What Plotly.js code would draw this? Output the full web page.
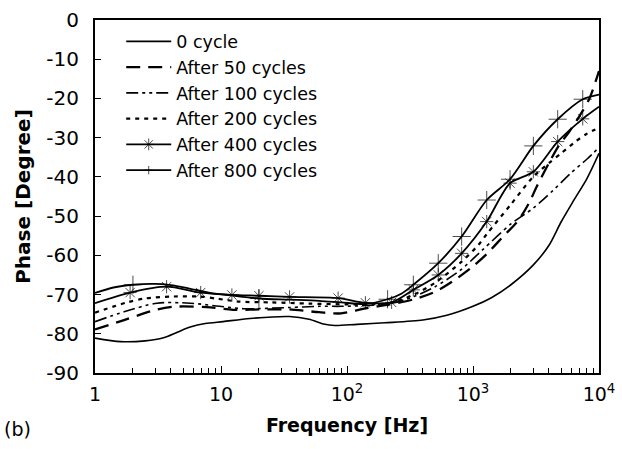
<!DOCTYPE html>
<html>
<head>
<meta charset="utf-8">
<script src="https://cdn.plot.ly/plotly-3.0.1.min.js"></script>
<style>
html,body{margin:0;padding:0;background:#fff;}
#chart{width:622px;height:449px;}
</style>
</head>
<body>
<div id="chart"></div>
<script>
// ---- data ----
const seriesNames = ["0 cycle", "After 50 cycles", "After 100 cycles", "After 200 cycles", "After 400 cycles", "After 800 cycles"];

const freq0 = [1, 1.6, 2.5, 3.5, 4.5, 5.7, 7.5, 10.4, 17, 35, 50, 65, 80, 120, 200, 400, 620, 1000, 1400, 2000, 3000, 4000, 5000, 6300, 8000, 10000];
const phase0 = [-81.1, -82.0, -81.8, -81.0, -79.6, -78.3, -77.4, -76.9, -76.1, -75.6, -76.3, -77.5, -77.9, -77.6, -77.2, -76.5, -75.3, -73.0, -70.8, -67.5, -62.5, -57.5, -51.5, -46.0, -40.5, -34.0];

const freq50 = [1, 1.7, 3.1, 4.2, 7.7, 12.5, 20, 35, 60, 90, 140, 220, 340, 500, 700, 1000, 1300, 1700, 2300, 2800, 3200, 4000, 4800, 5800, 7000, 8400, 10000];
const phase50 = [-78.9, -76.5, -73.8, -73.1, -73.2, -73.9, -73.8, -73.8, -74.5, -74.8, -73.5, -72.5, -71.2, -69.3, -66.5, -62.8, -59.5, -55.5, -51.0, -46.5, -42.5, -36.5, -32.0, -28.5, -24.5, -20.0, -13.0];

const freq100 = [1, 1.7, 3.1, 5.7, 9.2, 15, 35, 60, 90, 140, 220, 340, 500, 800, 1200, 2000, 3000, 4300, 6000, 8000, 10000];
const phase100 = [-76.9, -74.4, -72.2, -72.2, -72.9, -73.6, -73.3, -73.0, -73.0, -72.8, -72.3, -70.5, -68.0, -63.7, -58.5, -52.0, -48.0, -43.5, -39.0, -35.5, -32.5];

const freq200 = [1, 1.8, 2.5, 4.2, 6.8, 9.5, 14, 25, 50, 100, 160, 230, 340, 500, 800, 1100, 1300, 2000, 3000, 4000, 5000, 6500, 8000, 10000];
const phase200 = [-74.6, -72.0, -71.0, -70.5, -70.5, -71.1, -71.8, -72.0, -72.3, -72.5, -72.5, -72.0, -70.0, -67.0, -61.8, -57.4, -54.4, -47.0, -40.0, -36.5, -34.0, -31.0, -29.0, -27.5];

const freq400 = [1, 1.9, 3.7, 6.9, 12.2, 20, 35, 85, 140, 226, 336, 530, 813, 1285, 1968, 3013, 4700, 7430, 10000];
const phase400 = [-72.2, -69.5, -68.0, -69.5, -70.1, -70.3, -70.6, -70.9, -72.1, -72.0, -68.8, -65.0, -59.5, -51.4, -41.6, -38.7, -31.0, -25.2, -22.1];

const freq800 = [1, 1.4, 2, 3, 4, 5.5, 8, 12, 20, 35, 60, 90, 140, 210, 270, 336, 530, 813, 1285, 1968, 3013, 4700, 7430, 10000];
const phase800 = [-69.6, -68.2, -67.5, -67.3, -67.6, -68.4, -69.5, -70.2, -71.0, -71.3, -71.6, -72.0, -72.4, -71.2, -69.8, -67.5, -62.0, -55.2, -45.9, -40.6, -32.1, -25.3, -20.2, -19.0];
// frequencies that carry a marker
const mark400 = [1.9, 3.7, 6.9, 12.2, 20, 35, 85, 140, 226, 336, 530, 813, 1285, 1968, 3013, 4700, 7430];
const mark800 = [2, 20, 210, 336, 530, 813, 1285, 1968, 3013, 4700, 7430];

const xTickVals = [1, 10, 100, 1000, 10000];
const xTickText = ["1", "10", "10<sup>2</sup>", "10<sup>3</sup>", "10<sup>4</sup>"];
const yTickVals = [-90, -80, -70, -60, -50, -40, -30, -20, -10, 0];
const yTickText = ["-90", "-80", "-70", "-60", "-50", "-40", "-30", "-20", "-10", "0"];

// ---- build ----
const FONT = "DejaVu Sans, Verdana, sans-serif";
const minorVals = [];
for (let d = 1; d < 10000; d *= 10) for (let k = 2; k <= 9; k++) minorVals.push(k * d);

function sizes(fr, marks, s) { return fr.map(f => marks.indexOf(f) >= 0 ? s : 0); }

const spline = {shape: "spline", smoothing: 0.8};
const traces = [
  {x: freq0, y: phase0, name: seriesNames[0], mode: "lines",
   line: Object.assign({color: "#000", width: 1.6, dash: "solid"}, spline)},
  {x: freq50, y: phase50, name: seriesNames[1], mode: "lines",
   line: Object.assign({color: "#000", width: 2.3, dash: "14px,8px"}, spline)},
  {x: freq100, y: phase100, name: seriesNames[2], mode: "lines",
   line: Object.assign({color: "#000", width: 1.6, dash: "12px,4px,3px,4px,3px,4px"}, spline)},
  {x: freq200, y: phase200, name: seriesNames[3], mode: "lines",
   line: Object.assign({color: "#000", width: 2.2, dash: "4px,5px"}, spline)},
  {x: freq400, y: phase400, name: seriesNames[4], mode: "lines+markers",
   line: Object.assign({color: "#000", width: 1.8}, spline),
   marker: {symbol: "asterisk-open", size: sizes(freq400, mark400, 11), color: "#000", line: {color: "#000", width: 1}}},
  {x: freq800, y: phase800, name: seriesNames[5], mode: "lines+markers",
   line: Object.assign({color: "#000", width: 1.8}, spline),
   marker: {symbol: "cross-thin-open", size: sizes(freq800, mark800, 13), color: "#000", line: {color: "#000", width: 1}}}
];

const layout = {
  width: 622, height: 449,
  margin: {l: 95, r: 23, t: 20, b: 76},
  paper_bgcolor: "#fff", plot_bgcolor: "#fff",
  font: {family: FONT, size: 19, color: "#000"},
  showlegend: true,
  legend: {x: 0.052, y: 0.99, xanchor: "left", yanchor: "top", bgcolor: "rgba(0,0,0,0)",
           font: {family: FONT, size: 17.5, color: "#000"}, itemwidth: 45, tracegroupgap: 0},
  xaxis: {type: "log", range: [0, 4], tickmode: "array", tickvals: xTickVals, ticktext: xTickText,
          ticks: "inside", ticklen: 7, tickwidth: 1, tickcolor: "#000", ticklabelstandoff: 3,
          showline: true, linewidth: 2, linecolor: "#000", mirror: true,
          showgrid: false, zeroline: false,
          tickfont: {family: FONT, size: 19, color: "#000"},
          minor: {tickmode: "array", tickvals: minorVals, ticks: "inside", ticklen: 5, tickwidth: 1, tickcolor: "#000", showgrid: false},
          title: {text: "<b>Frequency [Hz]</b>", font: {family: FONT, size: 19, color: "#000"}, standoff: 15}},
  yaxis: {range: [-90, 0], tickmode: "array", tickvals: yTickVals, ticktext: yTickText,
          ticks: "inside", ticklen: 6, tickwidth: 1, tickcolor: "#000", ticklabelstandoff: 10,
          showline: true, linewidth: 2, linecolor: "#000", mirror: true,
          showgrid: false, zeroline: false,
          tickfont: {family: FONT, size: 20, color: "#000"},
          title: {text: "<b>Phase [Degree]</b>", font: {family: FONT, size: 20, color: "#000"}, standoff: 10}},
  annotations: [{text: "(b)", xref: "paper", yref: "paper", x: -0.185, y: -0.16, xanchor: "left", yanchor: "middle",
                 showarrow: false, font: {family: FONT, size: 19, color: "#000"}}]
};

Plotly.newPlot("chart", traces, layout, {staticPlot: true, displayModeBar: false});
</script>
</body>
</html>
